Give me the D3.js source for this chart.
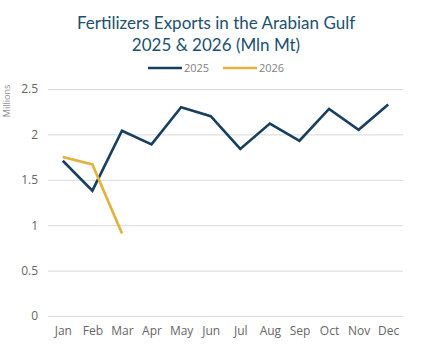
<!DOCTYPE html>
<html>
<head>
<meta charset="utf-8">
<script src="https://cdn.jsdelivr.net/npm/d3@7"></script>
<style>
  body { margin: 0; background: #fff; }
  text { font-family: "Open Sans", "Noto Sans", sans-serif; }
</style>
</head>
<body>
<div id="chart"></div>
<script>
// Chart data
const months = ["Jan", "Feb", "Mar", "Apr", "May", "Jun", "Jul", "Aug", "Sep", "Oct", "Nov", "Dec"];
const exports2025 = [1.71, 1.38, 2.04, 1.89, 2.30, 2.20, 1.84, 2.12, 1.93, 2.28, 2.05, 2.33];
const exports2026 = [1.75, 1.67, 0.91];
const yTicks = [0, 0.5, 1, 1.5, 2, 2.5];
const seriesNames = ["2025", "2026"];

const width = 440, height = 350;
const margin = { top: 89, right: 37, bottom: 34, left: 48 };

const svg = d3.select("#chart").append("svg")
    .attr("width", width)
    .attr("height", height);

// Scales
const x = d3.scalePoint()
    .domain(months)
    .range([margin.left, width - margin.right])
    .padding(0.5);

const y = d3.scaleLinear()
    .domain([0, 2.5])
    .range([height - margin.bottom, margin.top]);

// Title
svg.append("text")
    .attr("x", 216).attr("y", 29)
    .attr("text-anchor", "middle")
    .style("font-family", "Lato, sans-serif")
    .style("font-size", "17px")
    .attr("fill", "#21506d")
    .text("Fertilizers Exports in the Arabian Gulf");
svg.append("text")
    .attr("x", 216).attr("y", 51)
    .attr("text-anchor", "middle")
    .style("font-family", "Lato, sans-serif")
    .style("font-size", "17px")
    .attr("fill", "#21506d")
    .text("2025 & 2026 (Mln Mt)");

// Gridlines + y axis labels
const yAxis = svg.append("g")
    .attr("transform", `translate(${margin.left},0)`)
    .call(d3.axisLeft(y).tickValues(yTicks).tickSize(-(width - margin.left - margin.right)).tickPadding(10).tickFormat(d3.format("")));
yAxis.select(".domain").remove();
yAxis.selectAll(".tick line").attr("stroke", "#d9d9d9").attr("stroke-width", 1);
yAxis.selectAll(".tick text").attr("fill", "#666").style("font-size", "12px");

// X axis labels
const xAxis = svg.append("g")
    .attr("transform", `translate(0,${height - margin.bottom})`)
    .call(d3.axisBottom(x).tickSize(0).tickPadding(10));
xAxis.select(".domain").remove();
xAxis.selectAll(".tick text").attr("fill", "#666").style("font-size", "12px");

// Y axis title
svg.append("text")
    .attr("transform", "translate(10,101) rotate(-90)")
    .attr("text-anchor", "middle")
    .attr("fill", "#8c8c8c")
    .style("font-size", "9px")
    .text("Millions");

// Lines
const colors = { "2025": "#173f5f", "2026": "#e3b23c" };
const line = d3.line()
    .x((d, i) => x(months[i]))
    .y(d => y(d));

svg.append("path")
    .datum(exports2025)
    .attr("fill", "none")
    .attr("stroke", colors["2025"])
    .attr("stroke-width", 2.6)
    .attr("d", line);

svg.append("path")
    .datum(exports2026)
    .attr("fill", "none")
    .attr("stroke", colors["2026"])
    .attr("stroke-width", 2.6)
    .attr("d", line);

// Legend
const legendPos = [{ x: 148 }, { x: 223 }];
seriesNames.forEach((name, i) => {
    const g = svg.append("g").attr("transform", `translate(${legendPos[i].x},68)`);
    g.append("line")
        .attr("x1", 0).attr("x2", 34)
        .attr("stroke", colors[name])
        .attr("stroke-width", 2.6);
    g.append("text")
        .attr("x", 36).attr("y", 4)
        .attr("fill", "#7f7f7f")
        .style("font-size", "11px")
        .text(name);
});
</script>
</body>
</html>
